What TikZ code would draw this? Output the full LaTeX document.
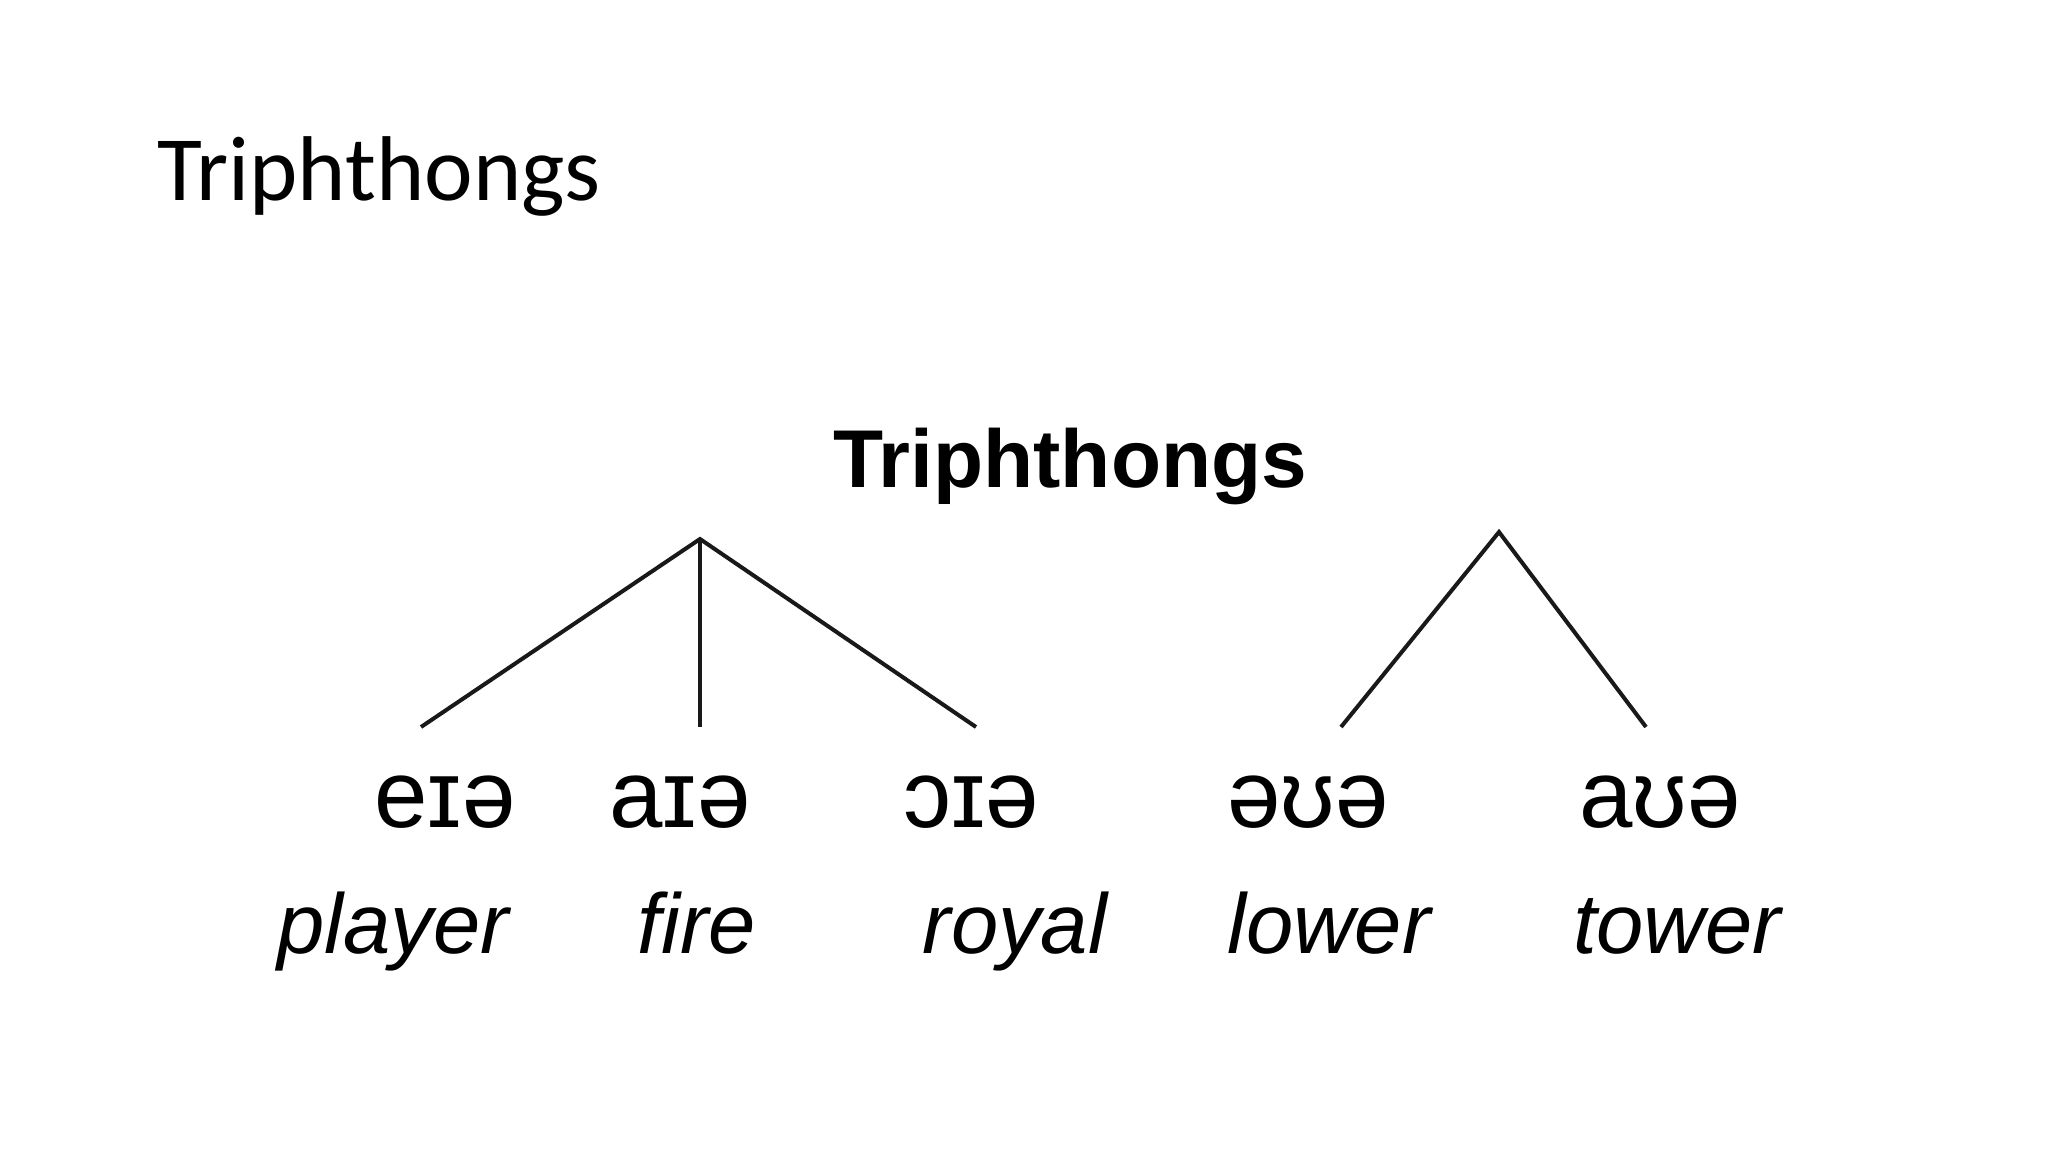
\documentclass[tikz,border=0pt]{standalone}
\usepackage{fontspec}
\setmainfont{Liberation Sans}
\newfontfamily\calib{Carlito}
\begin{document}
\begin{tikzpicture}[x=0.5pt,y=-0.5pt,
  ttl/.style={font=\calib\fontsize{46}{50}\selectfont, anchor=base west, inner sep=0},
  head/.style={font=\bfseries\fontsize{41}{45}\selectfont, anchor=base, inner sep=0},
  ipa/.style={font=\fontsize{48}{52}\selectfont, anchor=base, inner sep=0},
  word/.style={font=\itshape\fontsize{42.5}{46}\selectfont, anchor=base, inner sep=0},
  branch/.style={line width=2pt, black!90}]
\useasboundingbox[fill=white] (0,0) rectangle (2048,1152);
\node[ttl] (title) at (157,200) {Triphthongs};
\node[head] (head) at (1070,487) {Triphthongs};
\coordinate (apexL) at (700,539);
\coordinate (apexR) at (1499,532);
\coordinate (l1) at (421,727);
\coordinate (l2) at (700,727);
\coordinate (l3) at (976,727);
\coordinate (l4) at (1341,727);
\coordinate (l5) at (1646,727);
\draw[branch] (l1) -- (apexL) -- (l3);
\draw[branch] (apexL) -- (l2);
\draw[branch] (l4) -- (apexR) -- (l5);
\node[ipa] (i1) at (445,827) {eɪə};
\node[ipa] (i2) at (680,827) {aɪə};
\node[ipa] (i3) at (971,827) {ɔɪə};
\node[ipa] (i4) at (1308,827) {əʊə};
\node[ipa] (i5) at (1660,827) {aʊə};
\node[word] (w1) at (393,953) {player};
\node[word] (w2) at (697,953) {fire};
\node[word] (w3) at (1015,953) {royal};
\node[word] (w4) at (1329,953) {lower};
\node[word] (w5) at (1677,953) {tower};
\end{tikzpicture}
\end{document}
